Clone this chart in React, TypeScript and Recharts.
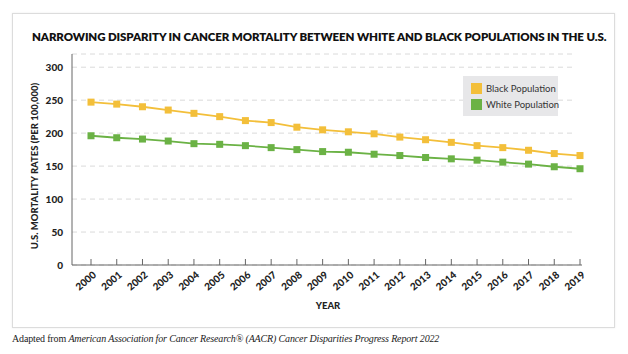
import { LineChart, Line, XAxis, YAxis, CartesianGrid } from 'recharts';

const years = ['2000', '2001', '2002', '2003', '2004', '2005', '2006', '2007', '2008', '2009',
    '2010', '2011', '2012', '2013', '2014', '2015', '2016', '2017', '2018', '2019'];
const blackRates = [247, 244, 240, 235, 230, 225, 219, 216, 209, 205, 202, 199, 194, 190, 186, 181, 178, 174, 169, 166];
const whiteRates = [196, 193, 191, 188, 184, 183, 181, 178, 175, 172, 171, 168, 166, 163, 161, 159, 156, 153, 149, 146];
const yTicks = [0, 50, 100, 150, 200, 250, 300];

const AMARILLO = '#F3BF3A';
const VERDE = '#6BB245';
const FUENTE = 'Lato, "Open Sans", sans-serif';
const SERIF = '"Liberation Serif", "DejaVu Serif", serif';

const series = [
    { key: 'black', nombre: 'Black Population', color: AMARILLO },
    { key: 'white', nombre: 'White Population', color: VERDE },
];

const data = years.map((y, i) => ({ year: y, black: blackRates[i], white: whiteRates[i] }));

const cuadrado = (color: string) => (props: any) => {
    const { cx, cy, index } = props;
    return <rect key={index} x={cx - 3.5} y={cy - 3.5} width={7} height={7} fill={color} />;
};

function TickAnio(props: any) {
    const { x, y, payload } = props;
    return (
        <g>
            <line x1={x} y1={y - 6} x2={x} y2={y} stroke="#666" strokeWidth={1} />
            <text x={x + 6} y={y + 11} transform={`rotate(-40 ${x + 6} ${y + 11})`} textAnchor="end"
                fontSize={10} fontWeight={900} fill="#222" fontFamily={FUENTE}>
                {payload.value}
            </text>
        </g>
    );
}

export default function App() {
    return (
        <div style={{ position: 'absolute', left: 0, top: 0, width: 628, height: 354, background: '#fff', overflow: 'hidden' }}>
            <div style={{ position: 'absolute', left: 12, top: 13, width: 601, height: 313, border: '1px solid #dcdcdc', boxShadow: '0 0 2px rgba(0,0,0,0.08)' }} />
            <svg width={628} height={354} style={{ position: 'absolute', left: 0, top: 0 }}>
                <text x={32} y={41} fontSize={11.5} fontWeight={800} letterSpacing={-0.1}
                    fill="#111" fontFamily={FUENTE}>
                    NARROWING DISPARITY IN CANCER MORTALITY BETWEEN WHITE AND BLACK POPULATIONS IN THE U.S.
                </text>
                <text x={34} y={166} transform="rotate(-90 34 166)" textAnchor="middle"
                    fontSize={9.5} fontWeight={900} fill="#222" dominantBaseline="central" fontFamily={FUENTE}>
                    U.S. MORTALITY RATES (PER 100,000)
                </text>
                <text x={328} y={309} textAnchor="middle" fontSize={9.5} fontWeight={900} fill="#222" fontFamily={FUENTE}>YEAR</text>
                <text x={12} y={342} fontSize={10} letterSpacing={-0.15} fill="#222" fontFamily={SERIF}>
                    Adapted from <tspan fontStyle="italic">American Association for Cancer Research® (AACR) Cancer Disparities Progress Report 2022</tspan>
                </text>
            </svg>
            <LineChart width={628} height={354} data={data} style={{ position: 'absolute', left: 0, top: 0 }}
                margin={{ top: 54, right: 46, bottom: 59, left: 0 }}>
                <CartesianGrid vertical={false} strokeDasharray="5 4" stroke="#dadada" width={500} />
                <XAxis dataKey="year" height={30} tickLine={false} tickSize={0} tickMargin={0} interval={0}
                    padding={{ left: 19, right: 2 }} stroke="#666" tick={<TickAnio />} />
                <YAxis width={72} domain={[0, 320]} ticks={yTicks} tickLine={false} tickSize={0} tickMargin={9}
                    stroke="#666" tick={{ fontSize: 10, fontWeight: 900, fill: '#222', fontFamily: FUENTE }} />
                {series.map((s) => (
                    <Line key={s.key} dataKey={s.key} name={s.nombre} type="linear" stroke={s.color} strokeWidth={1.8}
                        dot={cuadrado(s.color)} activeDot={false} isAnimationActive={false} />
                ))}
            </LineChart>
            <div style={{ position: 'absolute', left: 463, top: 76, width: 95, height: 40, background: '#e7e7e9', fontFamily: FUENTE }}>
                {series.map((s, i) => (
                    <div key={s.key} style={{ position: 'absolute', left: 8, top: 7 + i * 16, display: 'flex', alignItems: 'center', gap: 4 }}>
                        <span style={{ width: 11, height: 11, background: s.color, display: 'inline-block' }} />
                        <span style={{ fontSize: 9.5, color: '#333', whiteSpace: 'nowrap', lineHeight: '11px' }}>{s.nombre}</span>
                    </div>
                ))}
            </div>
        </div>
    );
}
